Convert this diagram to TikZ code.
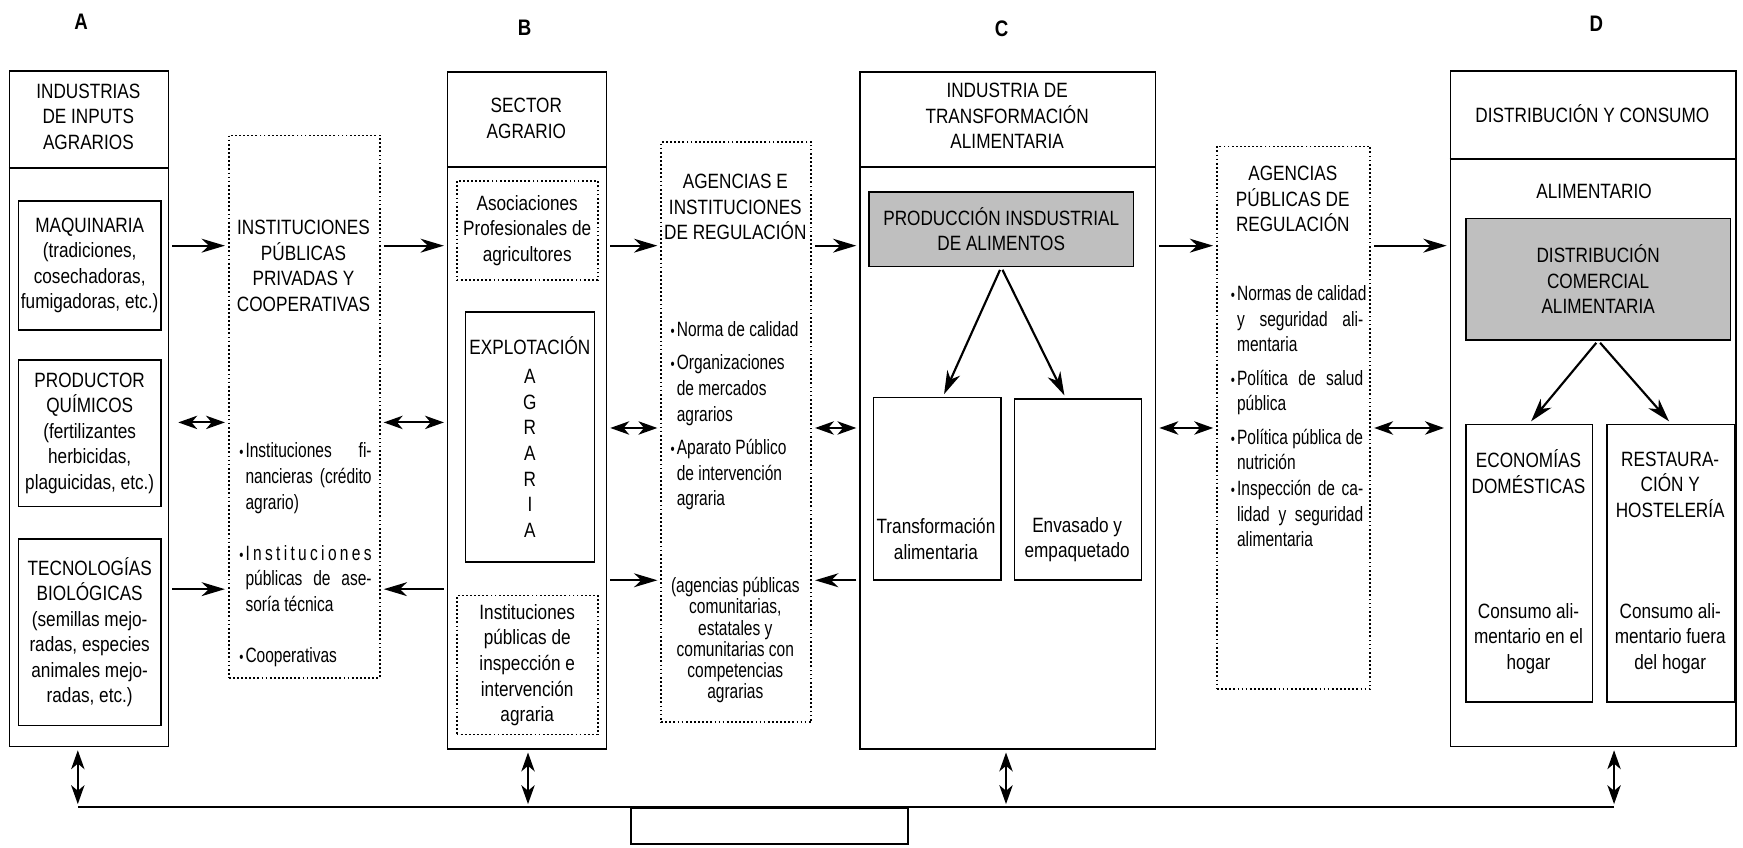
\documentclass[tikz,border=0pt]{standalone}
\usepackage{fontspec}
\setmainfont{Liberation Sans}[FakeStretch=0.83]
\newfontfamily\condfont{Liberation Sans}[FakeStretch=0.75]
\usetikzlibrary{arrows.meta}
\newcommand{\diagfont}{\fontsize{10.6}{13.1}\selectfont}
\newcommand{\bul}{\makebox[0.11cm][l]{\footnotesize\textbullet}}
\newcommand{\indl}{\hspace*{0.11cm}}
\newcommand{\jline}[1]{\makebox[2.27cm][s]{#1}}

\tikzset{
  sector/.style={draw, line width=0.8pt, anchor=north west, inner sep=0pt},
  itembox/.style={draw, line width=0.8pt, anchor=north west, inner sep=0pt, align=center},
  greybox/.style={itembox, fill=gray!50},
  dotbox/.style={draw, line width=0.9pt, dash pattern=on 0.9pt off 1.2pt, anchor=north west, inner sep=0pt},
  txt/.style={align=center, inner sep=0pt},
  lst/.style={align=left, anchor=west, inner sep=0pt, font=\diagfont\condfont},
  lbl/.style={font=\fontsize{11.5}{13}\selectfont\bfseries},
  link/.style={line width=1.1pt},
  arr/.style={-{Stealth[length=0.42cm,width=0.25cm,inset=0.13cm]}, line width=1.1pt, shorten <=1.5pt, shorten >=1.5pt},
  darr/.style={{Stealth[length=0.34cm,width=0.24cm,inset=0.1cm]}-{Stealth[length=0.34cm,width=0.24cm,inset=0.1cm]}, line width=1.1pt, shorten <=1.5pt, shorten >=1.5pt},
}

\begin{document}
\begin{tikzpicture}[x=0.02cm, y=-0.02cm, font=\diagfont]
\useasboundingbox (0,0) rectangle (1568,762);

\node[lbl] (labA) at (73,20) {A};
\node[lbl] (labB) at (472,25) {B};
\node[lbl] (labC) at (901,26) {C};
\node[lbl] (labD) at (1436,21) {D};

% A: industrias de inputs
\node[sector, minimum width=2.86cm, minimum height=12.16cm] (boxA) at (8,63) {};
\draw[line width=0.8pt] ([yshift=-1.76cm]boxA.north west) -- ([yshift=-1.76cm]boxA.north east);
\node[txt] (hA) at (79.5,105) {INDUSTRIAS\\DE INPUTS\\AGRARIOS};
\node[itembox, minimum width=2.56cm, minimum height=2.32cm] (maq) at (16,180) {MAQUINARIA\\(tradiciones,\\cosechadoras,\\fumigadoras, etc.)};
\node[itembox, minimum width=2.56cm, minimum height=2.64cm] (quim) at (16,323) {PRODUCTOR\\QUÍMICOS\\(fertilizantes\\herbicidas,\\plaguicidas, etc.)};
\node[itembox, minimum width=2.56cm, minimum height=3.36cm] (tec) at (16,484) {TECNOLOGÍAS\\BIOLÓGICAS\\(semillas mejo-\\radas, especies\\animales mejo-\\radas, etc.)};

\node[dotbox, minimum width=2.72cm, minimum height=9.76cm] (inst) at (205,121) {};
\node[txt] (hinst) at (273,239) {INSTITUCIONES\\PÚBLICAS\\PRIVADAS Y\\COOPERATIVAS};
\node[lst] (linst) at (215,499) {\bul\jline{Instituciones fi-}\\
  \indl\jline{nancieras (crédito}\\
  \indl agrario)\\[13pt]
  \bul\makebox[2.27cm]{I\hfill n\hfill s\hfill t\hfill i\hfill t\hfill u\hfill c\hfill i\hfill o\hfill n\hfill e\hfill s}\\
  \indl\jline{públicas de ase-}\\
  \indl soría técnica\\[13pt]
  \bul Cooperativas};

% B: sector agrario
\node[sector, minimum width=2.86cm, minimum height=12.18cm] (boxB) at (402,64) {};
\draw[line width=0.8pt] ([yshift=-1.72cm]boxB.north west) -- ([yshift=-1.72cm]boxB.north east);
\node[txt] (hB) at (473.5,106.5) {SECTOR\\AGRARIO};
\node[dotbox, align=center, minimum width=2.54cm, minimum height=1.78cm] (asoc) at (410,162) {Asociaciones\\Profesionales de\\agricultores};
\node[itembox, minimum width=2.32cm, minimum height=4.5cm] (explo) at (418,280) {EXPLOTACIÓN\\[1.7pt]A\\G\\R\\A\\R\\I\\A};
\node[dotbox, align=center, minimum width=2.54cm, minimum height=2.5cm] (insp) at (410,535) {Instituciones\\públicas de\\inspección e\\intervención\\agraria};

\node[dotbox, minimum width=2.7cm, minimum height=10.44cm] (reg) at (594,127) {};
\node[txt] (hreg) at (661.5,186.3) {AGENCIAS E\\INSTITUCIONES\\DE REGULACIÓN};
\node[lst] (lreg) at (603,374) {\bul Norma de calidad\\[4pt]
  \bul Organizaciones\\
  \indl de mercados\\
  \indl agrarios\\[4pt]
  \bul Aparato Público\\
  \indl de intervención\\
  \indl agraria};
\node[txt, font=\fontsize{10.6}{10.9}\selectfont\condfont] (preg) at (661.5,576) {(agencias públicas\\comunitarias,\\estatales y\\comunitarias con\\competencias\\agrarias};

% C: industria alimentaria
\node[sector, minimum width=5.32cm, minimum height=12.18cm] (boxC) at (773,64) {};
\draw[line width=0.8pt] ([yshift=-1.72cm]boxC.north west) -- ([yshift=-1.72cm]boxC.north east);
\node[txt] (hC) at (906,104.5) {INDUSTRIA DE\\TRANSFORMACIÓN\\ALIMENTARIA};
\node[greybox, minimum width=4.76cm, minimum height=1.34cm] (prod) at (781,172) {PRODUCCIÓN INSDUSTRIAL\\DE ALIMENTOS};
\node[itembox, minimum width=2.3cm, minimum height=3.28cm] (transf) at (785,357) {};
\node[txt] (ttransf) at (842,485) {Transformación\\alimentaria};
\node[itembox, minimum width=2.28cm, minimum height=3.26cm] (envas) at (912,358) {};
\node[txt] (tenvas) at (969,485.5) {Envasado y\\empaquetado};

\node[dotbox, minimum width=2.76cm, minimum height=9.76cm] (pub) at (1094,131) {};
\node[txt] (hpub) at (1163,179) {AGENCIAS\\PÚBLICAS DE\\REGULACIÓN};
\node[lst] (lpub) at (1107,374.5) {\bul Normas de calidad\\
  \indl\jline{y seguridad ali-}\\
  \indl mentaria\\[4pt]
  \bul\jline{Política de salud}\\
  \indl pública\\[4pt]
  \bul Política pública de\\
  \indl nutrición\\
  \bul\jline{Inspección de ca-}\\
  \indl\jline{lidad y seguridad}\\
  \indl alimentaria};

% D: distribucion y consumo
\node[sector, minimum width=5.14cm, minimum height=12.16cm] (boxD) at (1304,63) {};
\draw[line width=0.8pt] ([yshift=-1.6cm]boxD.north west) -- ([yshift=-1.6cm]boxD.north east);
\node[txt] (hD) at (1432.5,102.4) {DISTRIBUCIÓN Y CONSUMO};
\node[txt] (hD2) at (1434,172) {ALIMENTARIO};
\node[greybox, minimum width=4.76cm, minimum height=2.18cm] (dist) at (1318,196) {DISTRIBUCIÓN\\COMERCIAL\\ALIMENTARIA};
\node[itembox, minimum width=2.28cm, minimum height=5cm] (econ) at (1318,381) {};
\node[txt] (hecon) at (1375,424.5) {ECONOMÍAS\\DOMÉSTICAS};
\node[txt] (tecon) at (1375,574.5) {Consumo ali-\\mentario en el\\hogar};
\node[itembox, minimum width=2.3cm, minimum height=5cm] (rest) at (1445,381) {};
\node[txt] (hrest) at (1502.5,436) {RESTAURA-\\CIÓN Y\\HOSTELERÍA};
\node[txt] (trest) at (1502.5,574.5) {Consumo ali-\\mentario fuera\\del hogar};

% flechas entre columnas
\coordinate (r1) at (0,221);
\coordinate (r2a) at (0,380);
\coordinate (r2b) at (0,385);
\coordinate (r3a) at (0,530);
\coordinate (r3b) at (0,522);
\draw[arr] (boxA.east |- r1) -- (inst.west |- r1);
\draw[arr] (inst.east |- r1) -- (boxB.west |- r1);
\draw[arr] (boxB.east |- r1) -- (reg.west |- r1);
\draw[arr] (reg.east |- r1) -- (boxC.west |- r1);
\draw[arr] (boxC.east |- r1) -- (pub.west |- r1);
\draw[arr] (pub.east |- r1) -- (boxD.west |- r1);
\draw[darr, shorten <=0.16cm] (boxA.east |- r2a) -- (inst.west |- r2a);
\draw[darr] (inst.east |- r2a) -- (boxB.west |- r2a);
\draw[darr] (boxB.east |- r2b) -- (reg.west |- r2b);
\draw[darr] (reg.east |- r2b) -- (boxC.west |- r2b);
\draw[darr] (boxC.east |- r2b) -- (pub.west |- r2b);
\draw[darr, shorten >=0.1cm] (pub.east |- r2b) -- (boxD.west |- r2b);
\draw[arr] (boxA.east |- r3a) -- (inst.west |- r3a);
\draw[arr] (boxB.west |- r3a) -- (inst.east |- r3a);
\draw[arr] (boxB.east |- r3b) -- (reg.west |- r3b);
\draw[arr] (boxC.west |- r3b) -- (reg.east |- r3b);

% flechas internas
\draw[arr] (prod.south) -- ([xshift=0.1cm]transf.north);
\draw[arr] (prod.south) -- ([xshift=-0.22cm]envas.north);
\draw[arr] (dist.south) -- (econ.north);
\draw[arr] (dist.south) -- (rest.north);

% linea inferior
\coordinate (bA) at (70,726);
\coordinate (bB) at (475,726);
\coordinate (bC) at (905,726);
\coordinate (bD) at (1452,726);
\draw[darr] (boxA.south -| bA) -- (bA);
\draw[darr] (boxB.south -| bB) -- (bB);
\draw[darr] (boxC.south -| bC) -- (bC);
\draw[darr] (boxD.south -| bD) -- (bD);
\draw[link] (bA) -- (bD);
\node[sector, line width=1pt, minimum width=4.98cm, minimum height=0.64cm] (base) at (567,726) {};
\end{tikzpicture}
\end{document}
